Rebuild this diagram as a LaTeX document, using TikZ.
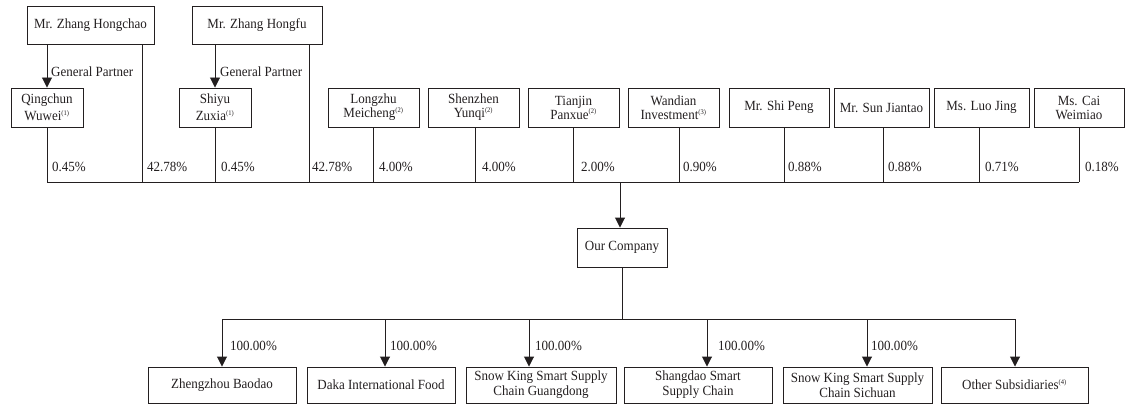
\documentclass[tikz,border=0pt]{standalone}
\usepackage{fontspec}
\setmainfont{Liberation Serif}[FakeStretch=0.93]
\usetikzlibrary{arrows.meta}
\newcommand\fnref[1]{\textsuperscript{\fontsize{7}{7}\selectfont(#1)}}
\definecolor{ink}{RGB}{35,31,32}
\begin{document}
\begin{tikzpicture}[x=1pt,y=-1pt,
  every node/.style={font=\fontsize{14}{15}\selectfont, text=ink},
  box/.style={draw=ink, line width=0.95pt, align=center, inner sep=0pt},
  ln/.style={draw=ink, line width=0.95pt},
  arr/.style={ln, -{Triangle[width=10pt,length=10pt]}},
  pct/.style={anchor=west, inner sep=0pt},
]
\useasboundingbox (0,0) rectangle (1125,404);
% top shareholders
\node[box, minimum width=127, minimum height=38] (hc) at (90.5,25) {Mr. Zhang Hongchao};
\node[box, minimum width=130, minimum height=38] (hf) at (257,25) {Mr. Zhang Hongfu};
% second row
\node[box, minimum width=72, minimum height=39, font=\fontsize{14}{17}\selectfont] (qw) at (47,107.5) {Qingchun\\Wuwei\fnref{1}};
\node[box, minimum width=72, minimum height=39, font=\fontsize{14}{17}\selectfont] (sz) at (215,107.5) {Shiyu\\Zuxia\fnref{1}};
\node[box, minimum width=91, minimum height=39, font=\fontsize{14}{14}\selectfont] (lz) at (373.5,107.5) {Longzhu\\Meicheng\fnref{2}};
\node[box, minimum width=91, minimum height=39, font=\fontsize{14}{14}\selectfont] (sy) at (473.5,107.5) {Shenzhen\\Yunqi\fnref{2}};
\node[box, minimum width=91, minimum height=39, font=\fontsize{14}{14}\selectfont] (tp) at (573.5,107.5) {Tianjin\\Panxue\fnref{2}};
\node[box, minimum width=91, minimum height=39, font=\fontsize{14}{14}\selectfont] (wi) at (673.5,107.5) {Wandian\\Investment\fnref{3}};
\node[box, minimum width=100, minimum height=39] (sp) at (779,107.5) {Mr. Shi Peng};
\node[box, minimum width=95, minimum height=39] (sj) at (881.5,107.5) {Mr. Sun Jiantao};
\node[box, minimum width=95, minimum height=39] (lj) at (981.5,107.5) {Ms. Luo Jing};
\node[box, minimum width=90, minimum height=39, font=\fontsize{14}{14}\selectfont] (cw) at (1079,107.5) {Ms. Cai\\Weimiao};
% company
\node[box, minimum width=90, minimum height=39] (oc) at (622,247.5) {Our Company};
% subsidiaries
\node[box, minimum width=148, minimum height=36] (zb) at (222,385) {Zhengzhou Baodao};
\node[box, minimum width=148, minimum height=36] (dk) at (381,385) {Daka International Food};
\node[box, minimum width=150, minimum height=36] (gd) at (541,385) {Snow King Smart Supply\\Chain Guangdong};
\node[box, minimum width=148, minimum height=36] (sd) at (698,385) {Shangdao Smart\\Supply Chain};
\node[box, minimum width=149, minimum height=36] (sc) at (857.5,385) {Snow King Smart Supply\\Chain Sichuan};
\node[box, minimum width=147, minimum height=36] (os) at (1014.5,385) {Other Subsidiaries\fnref{4}};
% general partner arrows
\draw[arr] ([xshift=-43.5]hc.south) -- (qw.north);
\draw[arr] ([xshift=-42]hf.south) -- (sz.north);
\node[anchor=west, inner sep=0pt] (gp1) at (51,72) {General Partner};
\node[anchor=west, inner sep=0pt] (gp2) at (220,72) {General Partner};
% upper bus
\coordinate (busL) at (47,182);
\coordinate (busR) at (1079,182);
\draw[ln] (busL) -- (busR);
\draw[ln] (qw.south) -- (qw.south |- busL);
\draw[ln] ([xshift=51.5]hc.south) -- ([xshift=51.5]hc.south |- busL);
\draw[ln] (sz.south) -- (sz.south |- busL);
\draw[ln] ([xshift=52]hf.south) -- ([xshift=52]hf.south |- busL);
\draw[ln] (lz.south) -- (lz.south |- busL);
\draw[ln] ([xshift=1.5]sy.south) -- ([xshift=1.5]sy.south |- busL);
\draw[ln] (tp.south) -- (tp.south |- busL);
\draw[ln] ([xshift=5.5]wi.south) -- ([xshift=5.5]wi.south |- busL);
\draw[ln] ([xshift=5]sp.south) -- ([xshift=5]sp.south |- busL);
\draw[ln] ([xshift=1.5]sj.south) -- ([xshift=1.5]sj.south |- busL);
\draw[ln] ([xshift=-2.5]lj.south) -- ([xshift=-2.5]lj.south |- busL);
\draw[ln] (cw.south) -- (cw.south |- busL);
% percentages
\node[pct] (p1) at (52,167) {0.45\%};
\node[pct] (p2) at (147,167) {42.78\%};
\node[pct] (p3) at (221,167) {0.45\%};
\node[pct] (p4) at (312,167) {42.78\%};
\node[pct] (p5) at (379,167) {4.00\%};
\node[pct] (p6) at (482,167) {4.00\%};
\node[pct] (p7) at (581,167) {2.00\%};
\node[pct] (p8) at (683,167) {0.90\%};
\node[pct] (p9) at (788,167) {0.88\%};
\node[pct] (p10) at (888,167) {0.88\%};
\node[pct] (p11) at (985,167) {0.71\%};
\node[pct] (p12) at (1085,167) {0.18\%};
% to company
\draw[arr] ([xshift=-2]oc.north |- busL) -- ([xshift=-2]oc.north);
% lower bus
\coordinate (bus2) at (622,319);
\draw[ln] (oc.south) -- (bus2);
\draw[ln] (zb.north |- bus2) -- ([xshift=0.5]os.north |- bus2);
\draw[arr] (zb.north |- bus2) -- (zb.north);
\draw[arr] ([xshift=4]dk.north |- bus2) -- ([xshift=4]dk.north);
\draw[arr] ([xshift=-12]gd.north |- bus2) -- ([xshift=-12]gd.north);
\draw[arr] ([xshift=9]sd.north |- bus2) -- ([xshift=9]sd.north);
\draw[arr] ([xshift=9.5]sc.north |- bus2) -- ([xshift=9.5]sc.north);
\draw[arr] ([xshift=0.5]os.north |- bus2) -- ([xshift=0.5]os.north);
\node[pct] (q1) at (230,346) {100.00\%};
\node[pct] (q2) at (390,346) {100.00\%};
\node[pct] (q3) at (535,346) {100.00\%};
\node[pct] (q4) at (718,346) {100.00\%};
\node[pct] (q5) at (871,346) {100.00\%};
\end{tikzpicture}
\end{document}
